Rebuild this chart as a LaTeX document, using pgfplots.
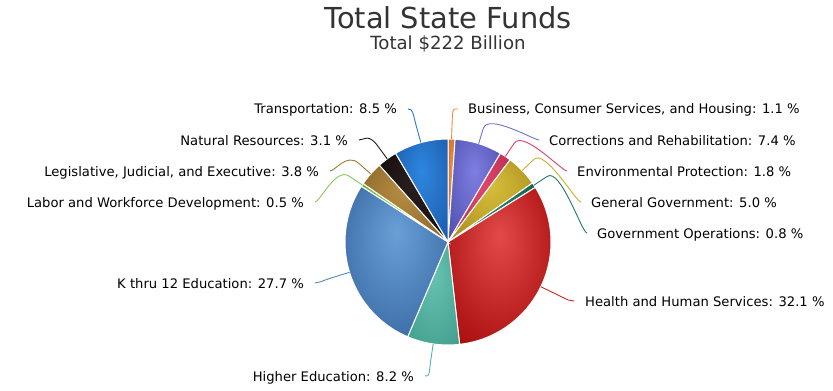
\documentclass[border=0pt]{standalone}
\usepackage{fontspec}
\setmainfont{DejaVu Sans}
\usepackage{pgfplots}
\pgfplotsset{compat=1.18}
\definecolor{busA}{HTML}{EE9045}\definecolor{busB}{HTML}{C06A28}
\definecolor{corA}{HTML}{7E7EE2}\definecolor{corB}{HTML}{5050B0}
\definecolor{envA}{HTML}{E2486E}\definecolor{envB}{HTML}{B82C50}
\definecolor{genA}{HTML}{D8BE3C}\definecolor{genB}{HTML}{A88E1C}
\definecolor{opsA}{HTML}{24846E}\definecolor{opsB}{HTML}{145E4E}
\definecolor{heaA}{HTML}{E24A4A}\definecolor{heaB}{HTML}{A80C0C}
\definecolor{higA}{HTML}{68C2B2}\definecolor{higB}{HTML}{44A08E}
\definecolor{k12A}{HTML}{68A0D6}\definecolor{k12B}{HTML}{3866A2}
\definecolor{labA}{HTML}{94D462}\definecolor{labB}{HTML}{70B040}
\definecolor{legA}{HTML}{B88E44}\definecolor{legB}{HTML}{8A6628}
\definecolor{natA}{HTML}{2C2020}\definecolor{natB}{HTML}{120A0A}
\definecolor{traA}{HTML}{2E86DE}\definecolor{traB}{HTML}{1C5EAE}
\definecolor{busL}{HTML}{E8893D}\definecolor{corL}{HTML}{7070D4}
\definecolor{envL}{HTML}{D94068}\definecolor{genL}{HTML}{C8AE30}
\definecolor{opsL}{HTML}{1F7A66}\definecolor{heaL}{HTML}{C82828}
\definecolor{higL}{HTML}{56B4A4}\definecolor{k12L}{HTML}{5088C0}
\definecolor{labL}{HTML}{88CC55}\definecolor{legL}{HTML}{A07A36}
\definecolor{natL}{HTML}{201818}\definecolor{traL}{HTML}{2A7AD6}
\definecolor{titlec}{HTML}{333333}
% one radial shading per slice: light centre high in the slice's box
\newcommand{\mkshade}[1]{%
  \pgfdeclareradialshading{sh#1}{\pgfpoint{0bp}{10bp}}%
    {color(0bp)=(#1A); color(35bp)=(#1B); color(50bp)=(#1B)}}
\mkshade{bus}\mkshade{cor}\mkshade{env}\mkshade{gen}\mkshade{ops}\mkshade{hea}
\mkshade{hig}\mkshade{k12}\mkshade{lab}\mkshade{leg}\mkshade{nat}\mkshade{tra}
% start percent, value percent, key, samples
\newcommand{\slice}[4]{%
  \addplot[draw=white, line width=1bp, shading=sh#3,
    domain={3.6*#1}:{3.6*(#1+#2)}, samples=#4]
    ({448+103*sin(x)},{242-103*cos(x)}) -- (axis cs:448,242) -- cycle;
}
% colour, mid angle, label x, label y, side
\newcommand{\conn}[5]{%
  \draw[#1, line width=0.9bp] (axis cs:#3,#4) .. controls (axis cs:{#3-5*(#5)},#4)
    and (axis cs:{448+135*sin(#2)},{242-135*cos(#2)}) ..
    (axis cs:{448+119*sin(#2)},{242-119*cos(#2)}) --
    (axis cs:{448+103*sin(#2)},{242-103*cos(#2)});
}
\begin{document}
\begin{tikzpicture}
\path[use as bounding box] (0,0) rectangle (833bp,391bp);
\begin{axis}[scale only axis, width=833bp, height=391bp, hide axis,
  xmin=0, xmax=833, ymin=0, ymax=391, y dir=reverse, clip=false]
\slice{0}{1.1}{bus}{4}
\slice{1.1}{7.4}{cor}{16}
\slice{8.5}{1.8}{env}{5}
\slice{10.3}{5.0}{gen}{12}
\slice{15.3}{0.8}{ops}{4}
\slice{16.1}{32.1}{hea}{60}
\slice{48.2}{8.2}{hig}{16}
\slice{56.4}{27.7}{k12}{52}
\slice{84.1}{0.5}{lab}{3}
\slice{84.6}{3.8}{leg}{9}
\slice{88.4}{3.1}{nat}{8}
\slice{91.5}{8.5}{tra}{18}
% connectors
\conn{busL}{1.98}{458}{109}{1}
\conn{corL}{17.28}{539}{140}{1}
\conn{envL}{33.84}{567}{171}{1}
\conn{genL}{46.08}{581}{202}{1}
\conn{opsL}{56.52}{587}{233}{1}
\conn{heaL}{115.74}{574}{301}{1}
\conn{higL}{188.28}{425}{376}{-1}
\conn{k12L}{252.9}{315}{283}{-1}
\conn{labL}{303.66}{315}{202}{-1}
\conn{legL}{311.4}{330}{171}{-1}
\conn{natL}{323.82}{359}{140}{-1}
\conn{traL}{344.7}{408}{109}{-1}
% labels
\begin{scope}[every node/.style={font=\fontsize{13.2}{15}\selectfont, text=black, inner sep=0pt}]
\node[anchor=base west] at (axis cs:468,114) {Business, Consumer Services, and Housing: 1.1 \%};
\node[anchor=base west] at (axis cs:549,145) {Corrections and Rehabilitation: 7.4 \%};
\node[anchor=base west] at (axis cs:577,176) {Environmental Protection: 1.8 \%};
\node[anchor=base west] at (axis cs:591,207) {General Government: 5.0 \%};
\node[anchor=base west] at (axis cs:597,238) {Government Operations: 0.8 \%};
\node[anchor=base west] at (axis cs:585,306) {Health and Human Services: 32.1 \%};
\node[anchor=base east] at (axis cs:414,381) {Higher Education: 8.2 \%};
\node[anchor=base east] at (axis cs:304,288) {K thru 12 Education: 27.7 \%};
\node[anchor=base east] at (axis cs:304,207) {Labor and Workforce Development: 0.5 \%};
\node[anchor=base east] at (axis cs:319,176) {Legislative, Judicial, and Executive: 3.8 \%};
\node[anchor=base east] at (axis cs:348,145) {Natural Resources: 3.1 \%};
\node[anchor=base east] at (axis cs:397,114) {Transportation: 8.5 \%};
\end{scope}
\node[font=\fontsize{29}{33}\selectfont, text=titlec, anchor=base, inner sep=0pt] at (axis cs:448,29) {Total State Funds};
\node[font=\fontsize{18.2}{21}\selectfont, text=titlec, anchor=base, inner sep=0pt] at (axis cs:448,50) {Total \$222 Billion};
\end{axis}
\end{tikzpicture}
\end{document}
